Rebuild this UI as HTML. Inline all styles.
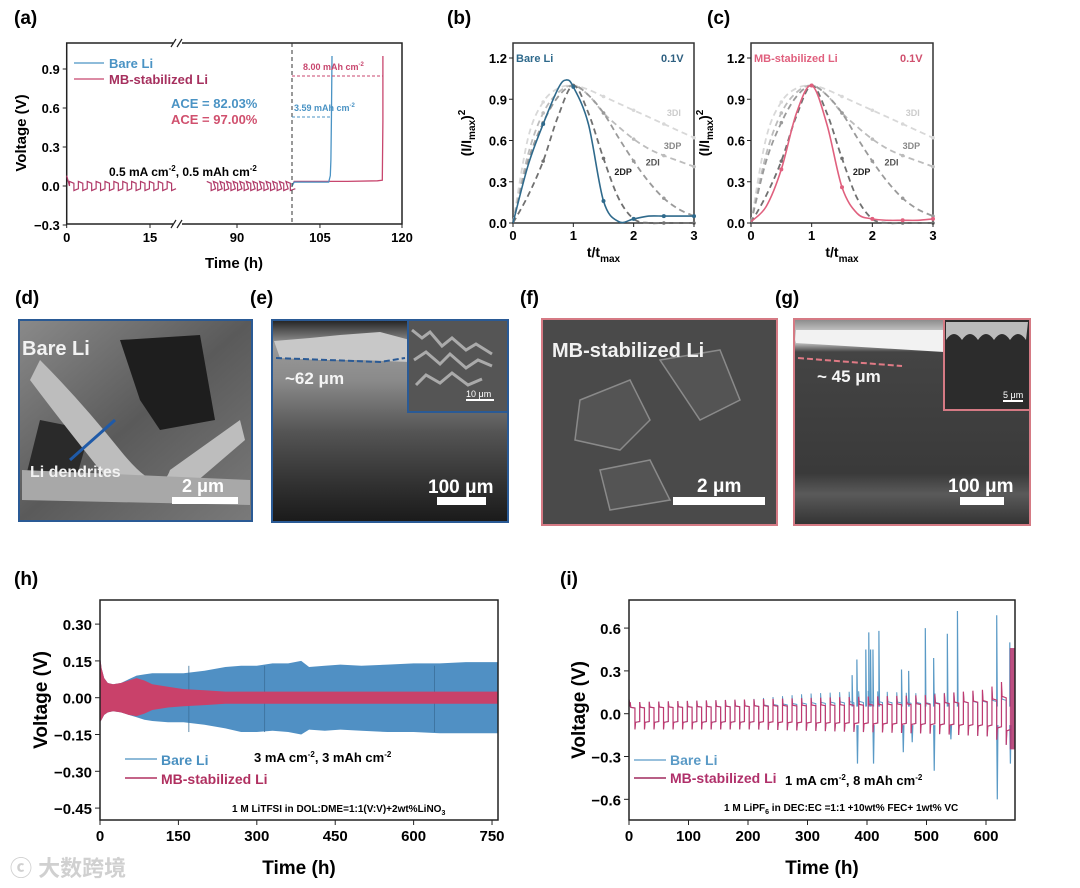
<!DOCTYPE html>
<html><head><meta charset="utf-8">
<style>
html,body{margin:0;padding:0;background:#fff;}
svg{display:block;font-family:"Liberation Sans","Noto Sans CJK SC",sans-serif;}
.b{font-weight:bold;}
</style></head>
<body>
<svg id="fig" width="1080" height="888" viewBox="0 0 1080 888" xmlns="http://www.w3.org/2000/svg">
<defs>
<linearGradient id="gd" x1="0" y1="0" x2="1" y2="1"><stop offset="0" stop-color="#8a8a8a"/><stop offset="0.5" stop-color="#5a5a5a"/><stop offset="1" stop-color="#7a7a7a"/></linearGradient>
<linearGradient id="ge" x1="0" y1="0" x2="0" y2="1"><stop offset="0" stop-color="#222"/><stop offset="0.12" stop-color="#999"/><stop offset="0.3" stop-color="#8a8a8a"/><stop offset="0.55" stop-color="#555"/><stop offset="0.8" stop-color="#333"/><stop offset="1" stop-color="#1a1a1a"/></linearGradient>
<linearGradient id="gg" x1="0" y1="0" x2="0" y2="1"><stop offset="0" stop-color="#888"/><stop offset="0.1" stop-color="#eee"/><stop offset="0.16" stop-color="#444"/><stop offset="0.75" stop-color="#3a3a3a"/><stop offset="0.85" stop-color="#5a5a5a"/><stop offset="1" stop-color="#333"/></linearGradient>
</defs>

<text x="14" y="24" font-size="19" class="b">(a)</text>
<text x="447" y="24" font-size="19" class="b">(b)</text>
<text x="707" y="24" font-size="19" class="b">(c)</text>
<text x="15" y="304" font-size="19" class="b">(d)</text>
<text x="250" y="304" font-size="19" class="b">(e)</text>
<text x="520" y="304" font-size="19" class="b">(f)</text>
<text x="775" y="304" font-size="19" class="b">(g)</text>
<text x="14" y="585" font-size="19" class="b">(h)</text>
<text x="560" y="585" font-size="19" class="b">(i)</text>

<g>
<rect x="19" y="320" width="233" height="201" fill="url(#gd)" stroke="#2a5a95" stroke-width="2"/>
<path d="M120,340 L200,335 L215,420 L160,430 L140,400 Z" fill="#1e1e1e"/>
<path d="M40,420 L90,430 L70,500 L25,480 Z" fill="#2a2a2a"/>
<path d="M40,360 Q80,400 120,450 T170,470 L240,420 L245,440 L175,500 Q120,495 100,470 Q60,420 30,380 Z" fill="#bdbdbd"/>
<path d="M22,470 L250,480 L250,505 L22,500 Z" fill="#a8a8a8"/>
<line x1="70" y1="460" x2="115" y2="420" stroke="#1f5aa8" stroke-width="3"/>
<text x="22" y="355" font-size="20" class="b" fill="#f2f2f2">Bare Li</text>
<text x="30" y="477" font-size="16" class="b" fill="#f2f2f2">Li dendrites</text>
<text x="182" y="492" font-size="18" class="b" fill="#fff">2 μm</text>
<rect x="172" y="497" width="66" height="7" fill="#fff"/>
</g>
<g>
<rect x="272" y="320" width="236" height="202" fill="url(#ge)" stroke="#2a5a95" stroke-width="2"/>
<path d="M274,341 L310,338 L340,335 L380,332 L410,340 L410,362 L360,360 L320,360 L280,358 Z" fill="#c8c8c8"/>
<path d="M276,358 L380,362 L405,358" stroke="#2a5a95" stroke-width="2" stroke-dasharray="6,3" fill="none"/>
<rect x="408" y="320" width="100" height="92" fill="#555" stroke="#2a5a95" stroke-width="2"/>
<path d="M412,330 l10,8 l8,-6 l12,14 l10,-8 l14,12 l10,-6 l16,10 M414,360 l12,-8 l14,12 l10,-10 l16,14 l12,-8 l14,6 M416,385 l10,-10 l14,8 l12,-10 l16,12 l14,-6" stroke="#aaa" stroke-width="3" fill="none"/>
<text x="466" y="397" font-size="9" fill="#fff">10 μm</text>
<rect x="466" y="399" width="28" height="2" fill="#fff"/>
<text x="285" y="384" font-size="17" class="b" fill="#f5f5f5">~62 μm</text>
<text x="428" y="493" font-size="19" class="b" fill="#fff">100 μm</text>
<rect x="437" y="497" width="49" height="8" fill="#fff"/>
</g>
<g>
<rect x="542" y="319" width="235" height="206" fill="#4a4a4a" stroke="#d57a84" stroke-width="2"/>
<path d="M580,400 L630,380 L650,420 L620,450 L575,440 Z M660,360 L720,350 L740,400 L700,420 Z M600,470 L650,460 L670,500 L610,510 Z" fill="#545454" stroke="#8a8a8a" stroke-width="1.5"/>
<text x="552" y="357" font-size="20" class="b" fill="#f2f2f2">MB-stabilized Li</text>
<text x="697" y="492" font-size="19" class="b" fill="#fff">2 μm</text>
<rect x="673" y="497" width="92" height="8" fill="#fff"/>
</g>
<g>
<rect x="794" y="319" width="236" height="206" fill="url(#gg)" stroke="#d57a84" stroke-width="2"/>
<path d="M796,330 L944,330 L944,352 L796,343 Z" fill="#f2f2f2"/>
<path d="M798,358 L902,366" stroke="#e07a85" stroke-width="2" stroke-dasharray="6,3"/>
<rect x="944" y="319" width="86" height="91" fill="#2c2c2c" stroke="#d57a84" stroke-width="2"/>
<path d="M946,340 q8,-12 16,0 q8,-12 16,0 q8,-12 16,0 q8,-12 16,0 q8,-12 16,0 L1028,322 L946,322 Z" fill="#bbb"/>
<text x="1003" y="398" font-size="9" fill="#fff">5 μm</text>
<rect x="1003" y="400" width="20" height="2" fill="#fff"/>
<text x="817" y="382" font-size="17" class="b" fill="#f5f5f5">~ 45 μm</text>
<text x="948" y="492" font-size="19" class="b" fill="#fff">100 μm</text>
<rect x="960" y="497" width="44" height="8" fill="#fff"/>
</g>

<g id="pa"></g>
<g id="pb"></g>
<g id="pc"></g>
<g id="ph"></g>
<g id="pi"></g>

<text x="10" y="876" font-size="22" fill="#d0d0d0" class="b">ⓒ 大数跨境</text>
</svg>

<script>
// ---------- DATA ----------
const aCycleStarts1 = [0.5,2.1,3.7,5.3,6.9,8.5,10.1,11.7,13.3,14.9,16.5,18.1];
const aCycleStarts2 = [84.5,85.7,86.9,88.1,89.3,90.5,91.7,92.9,94.1,95.3,96.5,97.7,98.9];
const aCycleAmp = [0.035,-0.035];
const aBareTime = [100,100.3,106.6,106.9,107.0,107.1,107.2];
const aBareVolt = [0.0,0.03,0.03,0.08,0.2,0.5,1.0];
const aMBTime = [100,100.3,110,115.5,116.4,116.5,116.5];
const aMBVolt = [0.0,0.035,0.035,0.04,0.045,0.5,1.0];
const aYTicks = [0.9,0.6,0.3,0.0,-0.3];
const aXTicks = [0,15,90,105,120];
const tGrid = [0,0.25,0.5,0.75,1,1.25,1.5,1.75,2,2.25,2.5,2.75,3];
const m3DI = [0,0.62,0.88,0.98,1.0,0.97,0.92,0.87,0.82,0.77,0.72,0.67,0.62];
const m3DP = [0,0.5,0.8,0.95,1.0,0.93,0.8,0.7,0.61,0.54,0.49,0.45,0.41];
const m2DI = [0,0.45,0.73,0.92,1.0,0.93,0.8,0.62,0.45,0.3,0.18,0.1,0.05];
const m2DP = [0,0.2,0.45,0.78,1.0,0.8,0.47,0.18,0.03,0,0,0,0];
const bareB = [0,0.42,0.72,0.98,0.99,0.72,0.16,0.01,0.03,0.05,0.05,0.05,0.05];
const bareBPeakT = 0.88, bareBPeakV = 1.04;
const mbC = [0.01,0.12,0.39,0.8,1.0,0.72,0.26,0.07,0.03,0.02,0.02,0.02,0.03];
const bcYTicks = [0.0,0.3,0.6,0.9,1.2];
const bcXTicks = [0,1,2,3];
const hTime = [0,3,8,15,25,40,55,70,85,100,130,160,200,240,270,300,330,360,385,400,430,460,500,550,600,650,700,762];
const hBlueUp = [0.17,0.12,0.08,0.06,0.055,0.06,0.075,0.09,0.095,0.1,0.1,0.1,0.11,0.125,0.13,0.13,0.14,0.14,0.15,0.125,0.13,0.135,0.13,0.135,0.14,0.14,0.145,0.145];
const hBlueLo = [-0.1,-0.09,-0.07,-0.06,-0.055,-0.06,-0.07,-0.08,-0.09,-0.095,-0.1,-0.1,-0.11,-0.125,-0.14,-0.14,-0.135,-0.14,-0.15,-0.13,-0.135,-0.13,-0.135,-0.14,-0.14,-0.145,-0.145,-0.145];
const hRedUp = [0.17,0.12,0.08,0.06,0.055,0.06,0.07,0.08,0.07,0.055,0.045,0.035,0.03,0.025,0.025,0.025,0.025,0.025,0.025,0.025,0.025,0.025,0.025,0.025,0.025,0.025,0.025,0.025];
const hRedLo = [-0.1,-0.09,-0.07,-0.06,-0.055,-0.06,-0.07,-0.075,-0.065,-0.05,-0.04,-0.035,-0.03,-0.025,-0.025,-0.025,-0.025,-0.025,-0.025,-0.025,-0.025,-0.025,-0.025,-0.025,-0.025,-0.025,-0.025,-0.025];
const hYTicks = [0.30,0.15,0.00,-0.15,-0.30,-0.45];
const hXTicks = [0,150,300,450,600,750];
const iAmpTime = [0,100,200,300,400,500,600,640];
const iMBAmpUp = [0.08,0.09,0.1,0.11,0.12,0.13,0.17,0.25];
const iMBAmpLo = [-0.11,-0.11,-0.11,-0.12,-0.13,-0.14,-0.16,-0.25];
const iBareAmpUp = [0.08,0.09,0.1,0.14,0.16,0.14,0.16,0.2];
const iSpikeT = [375,383,398,403,406,410,420,458,470,498,512,535,552,618,640];
const iSpikeV = [0.27,0.38,0.45,0.57,0.45,0.45,0.58,0.31,0.3,0.6,0.39,0.56,0.72,0.69,0.5];
const iDipT = [383,410,460,475,512,540,618,640];
const iDipV = [-0.35,-0.35,-0.27,-0.2,-0.4,-0.18,-0.6,-0.35];
const iPeriod = 16;
const iYTicks = [0.6,0.3,0.0,-0.3,-0.6];
const iXTicks = [0,100,200,300,400,500,600];

const NS = "http://www.w3.org/2000/svg";
function el(tag, attrs, parent){const e=document.createElementNS(NS,tag);for(const k in attrs)e.setAttribute(k,attrs[k]);parent.appendChild(e);return e;}
function txt(s, attrs, parent){const e=el('text',attrs,parent);e.textContent=s;return e;}
function poly(pts){return pts.map(p=>p[0].toFixed(1)+','+p[1].toFixed(1)).join(' ');}
function smooth(pts){let d='M'+pts[0][0]+','+pts[0][1];
for(let i=0;i<pts.length-1;i++){const p0=pts[Math.max(0,i-1)],p1=pts[i],p2=pts[i+1],p3=pts[Math.min(pts.length-1,i+2)];
const c1=[p1[0]+(p2[0]-p0[0])/6,p1[1]+(p2[1]-p0[1])/6],c2=[p2[0]-(p3[0]-p1[0])/6,p2[1]-(p3[1]-p1[1])/6];
d+=` C${c1[0].toFixed(1)},${c1[1].toFixed(1)} ${c2[0].toFixed(1)},${c2[1].toFixed(1)} ${p2[0].toFixed(1)},${p2[1].toFixed(1)}`;}return d;}

// ---------- PANEL A ----------
(function(){
const g=document.getElementById('pa');
const L=66.7,R=402,T=43,B=224;
const y=v=>186-v*130;
const x=t=> t<=25 ? 66.7+t*5.55 : (t<=100 ? 237+(t-90)*5.5 : 292.6+(t-100)*5.47);
const box=el('rect',{x:L,y:T,width:R-L,height:B-T,fill:'none',stroke:'#222','stroke-width':1.5},g);


[T,B].forEach(yy=>{el('rect',{x:173,y:yy-3,width:9,height:6,fill:'#fff'},g);
el('path',{d:`M171,${yy+4} l5,-8 M177,${yy+4} l5,-8`,stroke:'#222','stroke-width':1.2},g);});
aYTicks.forEach(v=>{el('line',{x1:L-4,x2:L,y1:y(v),y2:y(v),stroke:'#222'},g);
const t=txt(v.toFixed(1).replace('-','−'),{x:L-7,y:y(v)+5,'font-size':13,'text-anchor':'end',class:'b'},g);

});
aXTicks.forEach(v=>{const xx=v===0?66.7:(v===15?150:x(v));el('line',{x1:xx,x2:xx,y1:B,y2:B+4,stroke:'#222'},g);
const t=txt(String(v),{x:xx,y:B+18,'font-size':13,'text-anchor':'middle',class:'b'},g);

});
const yl=txt('Voltage (V)',{transform:`translate(26,133) rotate(-90)`,'font-size':15,'text-anchor':'middle',class:'b'},g);


const xl=txt('Time (h)',{x:234,y:268,'font-size':15,'text-anchor':'middle',class:'b'},g);


function wave(starts){let d='';starts.forEach((s,i)=>{const x0=x(s),x1=x(s+0.8),x2=x(s+1.6);
d+=(i?'L':'M')+x0+','+y(aCycleAmp[0])+' L'+x1+','+y(aCycleAmp[0]*0.6)+' L'+x1+','+y(aCycleAmp[1])+' L'+x2+','+y(aCycleAmp[1]*0.6)+' ';});return d;}
const w1=el('path',{d:'M66.7,'+y(0.08)+' L'+x(0.5)+','+y(0.0)+' '+wave(aCycleStarts1).replace(/^M/,'L'),stroke:'#b03a68',fill:'none','stroke-width':1.2},g);


const w2=el('path',{d:wave(aCycleStarts2),stroke:'#b03a68',fill:'none','stroke-width':1.2},g);


const mb=el('polyline',{points:poly(aMBTime.map((t,i)=>[x(t),y(aMBVolt[i])])),stroke:'#c8466e',fill:'none','stroke-width':1.3},g);


const bl=el('polyline',{points:poly(aBareTime.map((t,i)=>[x(t),y(aBareVolt[i])])),stroke:'#4a93c4',fill:'none','stroke-width':1.3},g);


el('line',{x1:x(100),x2:x(100),y1:T,y2:B,stroke:'#333','stroke-dasharray':'4,3'},g);
el('line',{x1:x(100),x2:x(116.5),y1:76,y2:76,stroke:'#c8466e','stroke-dasharray':'3,2'},g);
el('line',{x1:x(100),x2:x(107.1),y1:117,y2:117,stroke:'#4a93c4','stroke-dasharray':'3,2'},g);
txt('',{x:303,y:70,'font-size':9,class:'b',fill:'#c8466e'},g).innerHTML='8.00 mAh cm<tspan font-size="6" dy="-4">-2</tspan>';
txt('',{x:294,y:111,'font-size':9,class:'b',fill:'#4a93c4'},g).innerHTML='3.59 mAh cm<tspan font-size="6" dy="-4">-2</tspan>';
txt('ACE = 82.03%',{x:171,y:108,'font-size':13,class:'b',fill:'#4a93c4'},g);
txt('ACE = 97.00%',{x:171,y:124,'font-size':13,class:'b',fill:'#d0506e'},g);
txt('',{x:109,y:176,'font-size':12,class:'b'},g).innerHTML='0.5 mA cm<tspan font-size="8" dy="-5">-2</tspan><tspan dy="5">, 0.5 mAh cm</tspan><tspan font-size="8" dy="-5">-2</tspan>';
el('line',{x1:74,x2:104,y1:63,y2:63,stroke:'#4a93c4','stroke-width':1.3},g);
el('line',{x1:74,x2:104,y1:79,y2:79,stroke:'#c8466e','stroke-width':1.3},g);
const lg1=txt('Bare Li',{x:109,y:68,'font-size':13,class:'b',fill:'#4a93c4'},g);


const lg2=txt('MB-stabilized Li',{x:109,y:84,'font-size':13,class:'b',fill:'#a6305e'},g);


})();

// ---------- PANELS B, C ----------
function bc(id,L,R,main,color,label,isBare){
const g=document.getElementById(id);
const T=43,B=223;
const x=t=>L+t*(R-L)/3;
const y=v=>B-v*137.5;
const f=el('rect',{x:L,y:T,width:R-L,height:B-T,fill:'none',stroke:'#333','stroke-width':1.5},g);


const models=[[m3DI,'#d8d8d8','3DI'],[m3DP,'#bcbcbc','3DP'],[m2DI,'#9a9a9a','2DI'],[m2DP,'#707070','2DP']];
models.forEach(m=>{const ln=el('path',{d:smooth(tGrid.map((t,i)=>[x(t),y(m[0][i])])),stroke:m[1],fill:'none','stroke-width':1.8,'stroke-dasharray':'6,4'},g);


tGrid.forEach((t,i)=>{if(i%2===0&&i>0)el('circle',{cx:x(t),cy:y(m[0][i]),r:1.8,fill:m[1]},g);});});
let pts=tGrid.map((t,i)=>[x(t),y(main[i])]);
if(isBare){pts.splice(4,0,[x(bareBPeakT),y(bareBPeakV)]);}
const ml=el('path',{d:smooth(pts),stroke:color,fill:'none','stroke-width':1.6},g);


tGrid.forEach((t,i)=>{if(i%2===0&&i>0)el('circle',{cx:x(t),cy:y(main[i]),r:2,fill:color},g);});
bcYTicks.forEach(v=>{el('line',{x1:L-4,x2:L,y1:y(v),y2:y(v),stroke:'#222'},g);
const t=txt(v.toFixed(1),{x:L-6,y:y(v)+5,'font-size':13,'text-anchor':'end',class:'b'},g);

});
bcXTicks.forEach(v=>{el('line',{x1:x(v),x2:x(v),y1:B,y2:B+4,stroke:'#222'},g);
const t=txt(String(v),{x:x(v),y:B+17,'font-size':13,'text-anchor':'middle',class:'b'},g);

});
const yl=txt('',{transform:`translate(${L-42},133) rotate(-90)`,'font-size':14,'text-anchor':'middle',class:'b'},g);
yl.innerHTML='(I/I<tspan font-size="10" dy="4">max</tspan><tspan dy="-4">)</tspan><tspan font-size="10" dy="-6">2</tspan>';


const xl=txt('',{x:(L+R)/2,y:257,'font-size':14,'text-anchor':'middle',class:'b'},g);
xl.innerHTML='t/t<tspan font-size="10" dy="5">max</tspan>';


txt(label,{x:L+3,y:62,'font-size':11,class:'b',fill:color},g);
txt('0.1V',{x:R-33,y:62,'font-size':11,class:'b',fill:isBare?'#2d5f80':'#d0506e'},g);
txt('3DI',{x:x(2.55),y:y(0.78),'font-size':9,class:'b',fill:'#ccc'},g);
txt('3DP',{x:x(2.5),y:y(0.54),'font-size':9,class:'b',fill:'#888'},g);
txt('2DI',{x:x(2.2),y:y(0.42),'font-size':9,class:'b',fill:'#555'},g);
txt('2DP',{x:x(1.68),y:y(0.35),'font-size':9,class:'b',fill:'#222'},g);
}
bc('pb',513,694,bareB,'#2f6a8c','Bare Li',true);
bc('pc',751,933,mbC,'#e0607e','MB-stabilized Li',false);

// ---------- PANEL H ----------
(function(){
const g=document.getElementById('ph');
const L=100,R=498,T=600,B=820;
const x=t=>L+t*0.5227;
const y=v=>697.7-v*245.3;
const up=hTime.map((t,i)=>[x(t),y(hBlueUp[i])]),lo=hTime.map((t,i)=>[x(t),y(hBlueLo[i])]).reverse();
const bb=el('polygon',{points:poly(up.concat(lo)),fill:'#5090c4'},g);


[170,315,640].forEach(t=>el('line',{x1:x(t),x2:x(t),y1:y(0.13),y2:y(-0.14),stroke:'#3a6f9a','stroke-width':0.8},g));
const ru=hTime.map((t,i)=>[x(t),y(hRedUp[i])]),rl=hTime.map((t,i)=>[x(t),y(hRedLo[i])]).reverse();
const rb=el('polygon',{points:poly(ru.concat(rl)),fill:'#c9416a'},g);


const f=el('rect',{x:L,y:T,width:R-L,height:B-T,fill:'none',stroke:'#222','stroke-width':1.5},g);


hYTicks.forEach(v=>{el('line',{x1:L-5,x2:L,y1:y(v),y2:y(v),stroke:'#222'},g);
const t=txt(v.toFixed(2).replace('-','−'),{x:L-8,y:y(v)+6,'font-size':15,'text-anchor':'end',class:'b'},g);

});
hXTicks.forEach(v=>{el('line',{x1:x(v),x2:x(v),y1:B,y2:B+5,stroke:'#222'},g);
const t=txt(String(v),{x:x(v),y:B+21,'font-size':15,'text-anchor':'middle',class:'b'},g);

});
const yl=txt('Voltage (V)',{transform:'translate(47,700) rotate(-90)','font-size':19,'text-anchor':'middle',class:'b'},g);


const xl=txt('Time (h)',{x:299,y:874,'font-size':19,'text-anchor':'middle',class:'b'},g);


el('line',{x1:125,x2:157,y1:759,y2:759,stroke:'#4a90c0','stroke-width':1.3},g);
el('line',{x1:125,x2:157,y1:778,y2:778,stroke:'#b03060','stroke-width':1.5},g);
const l1=txt('Bare Li',{x:161,y:765,'font-size':14,class:'b',fill:'#4a90c0'},g);


const l2=txt('MB-stabilized Li',{x:161,y:784,'font-size':14,class:'b',fill:'#b03060'},g);


txt('',{x:254,y:762,'font-size':13,class:'b'},g).innerHTML='3 mA cm<tspan font-size="8" dy="-5">-2</tspan><tspan dy="5">, 3 mAh cm</tspan><tspan font-size="8" dy="-5">-2</tspan>';
txt('',{x:232,y:812,'font-size':10,class:'b'},g).innerHTML='1 M LiTFSI in DOL:DME=1:1(V:V)+2wt%LiNO<tspan font-size="7" dy="3">3</tspan>';
})();

// ---------- PANEL I ----------
(function(){
const g=document.getElementById('pi');
const L=629,R=1015,T=600,B=820;
const x=t=>L+t*0.595;
const y=v=>713.7-v*142.7;
function interp(arr,t){for(let i=1;i<iAmpTime.length;i++){if(t<=iAmpTime[i]){const f=(t-iAmpTime[i-1])/(iAmpTime[i]-iAmpTime[i-1]);return arr[i-1]+f*(arr[i]-arr[i-1]);}}return arr[arr.length-1];}
function square(upA,loA){let d='M'+x(0)+','+y(0.1)+' L'+x(2)+','+y(0.05);
for(let t=2;t+iPeriod<=648;t+=iPeriod){const h=iPeriod/2,u=interp(upA,t),l=interp(loA,t);
d+=` L${x(t)},${y(u)} L${x(t+1)},${y(u*0.55)} L${x(t+h)},${y(u*0.5)} L${x(t+h)},${y(l)} L${x(t+h+1)},${y(l*0.55)} L${x(t+iPeriod)},${y(l*0.5)}`;}
return d;}
const bare=el('path',{d:square(iBareAmpUp,iMBAmpLo),stroke:'#5a9ac6',fill:'none','stroke-width':1},g);


iSpikeT.forEach((t,i)=>{const s=el('path',{d:`M${x(t)},${y(0.05)} L${x(t)},${y(iSpikeV[i])} L${x(t+1)},${y(0.05)}`,stroke:'#5a9ac6',fill:'none','stroke-width':1.2},g);

});
iDipT.forEach((t,i)=>{const s=el('path',{d:`M${x(t)},${y(-0.08)} L${x(t+1)},${y(iDipV[i])} L${x(t+2)},${y(-0.08)}`,stroke:'#5a9ac6',fill:'none','stroke-width':1.2},g);

});
const mb=el('path',{d:square(iMBAmpUp,iMBAmpLo),stroke:'#c03a70',fill:'none','stroke-width':1.2},g);


el('rect',{x:x(640),y:y(0.46),width:x(649)-x(640),height:y(-0.25)-y(0.46),fill:'#b0306a',opacity:0.85},g);
const f=el('rect',{x:L,y:T,width:R-L,height:B-T,fill:'none',stroke:'#222','stroke-width':1.5},g);


iYTicks.forEach(v=>{el('line',{x1:L-5,x2:L,y1:y(v),y2:y(v),stroke:'#222'},g);
const t=txt(v.toFixed(1).replace('-','−'),{x:L-8,y:y(v)+6,'font-size':15,'text-anchor':'end',class:'b'},g);

});
iXTicks.forEach(v=>{el('line',{x1:x(v),x2:x(v),y1:B,y2:B+5,stroke:'#222'},g);
const t=txt(String(v),{x:x(v),y:B+21,'font-size':15,'text-anchor':'middle',class:'b'},g);

});
const yl=txt('Voltage (V)',{transform:'translate(585,710) rotate(-90)','font-size':19,'text-anchor':'middle',class:'b'},g);


const xl=txt('Time (h)',{x:822,y:874,'font-size':19,'text-anchor':'middle',class:'b'},g);


el('line',{x1:634,x2:666,y1:760,y2:760,stroke:'#5a9ac6','stroke-width':1.3},g);
el('line',{x1:634,x2:666,y1:778,y2:778,stroke:'#a02a5e','stroke-width':1.5},g);
const l1=txt('Bare Li',{x:670,y:765,'font-size':14,class:'b',fill:'#5a9ac6'},g);


const l2=txt('MB-stabilized Li',{x:670,y:783,'font-size':14,class:'b',fill:'#b0306a'},g);


txt('',{x:785,y:785,'font-size':13,class:'b'},g).innerHTML='1 mA cm<tspan font-size="8" dy="-5">-2</tspan><tspan dy="5">, 8 mAh cm</tspan><tspan font-size="8" dy="-5">-2</tspan>';
txt('',{x:724,y:811,'font-size':10,class:'b'},g).innerHTML='1 M LiPF<tspan font-size="7" dy="3">6</tspan><tspan dy="-3"> in DEC:EC =1:1 +10wt% FEC+ 1wt% VC</tspan>';
})();
</script>
</body></html>
